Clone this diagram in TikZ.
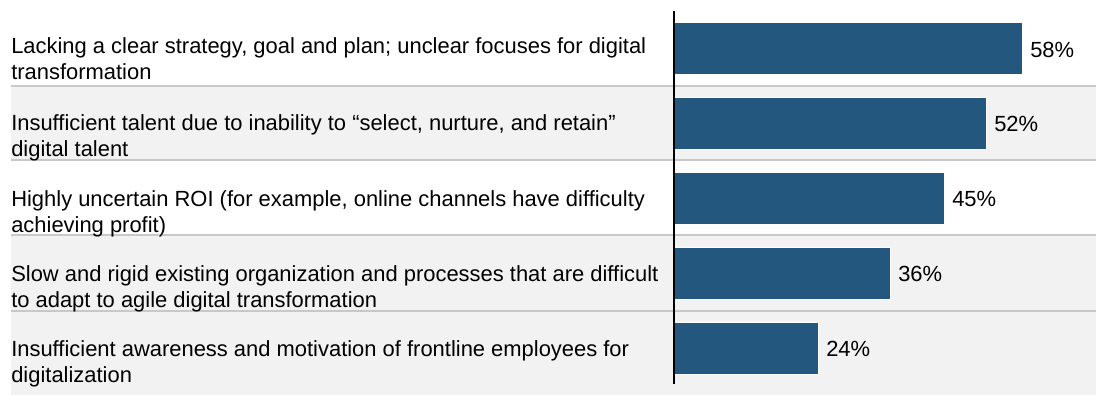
\documentclass[tikz,border=0pt]{standalone}
\usepackage{fontspec}
\setmainfont{Liberation Sans}
\definecolor{barblue}{RGB}{36,87,126}
\definecolor{rowgray}{RGB}{242,242,242}
\definecolor{rulegray}{RGB}{200,200,200}
\begin{document}
\begin{tikzpicture}[x=0.025cm, y=-0.025cm,
  rowtext/.style={anchor=base west, align=left, inner sep=0pt, font=\fontsize{15.6}{17.8}\selectfont},
  pct/.style={anchor=base west, inner sep=0pt, font=\fontsize{15.6}{17.8}\selectfont},
  bar/.style={fill=barblue, draw=white, line width=0.6pt},
  sep/.style={draw=rulegray, line width=1.4pt}]
% Page size (one unit is one pixel of the chart)
\useasboundingbox (0,0) rectangle (1096,395);

% Shaded rows and row rules
\fill[rowgray] (11,86) rectangle (1096,160);
\fill[rowgray] (11,235) rectangle (1096,395);
\draw[sep] (11,86) -- (1096,86);
\draw[sep] (11,160) -- (1096,160);
\draw[sep] (11,235) -- (1096,235);
\draw[sep] (11,311) -- (1096,311);

% Bars, 6 units per percent
\draw[bar] (674,22) rectangle +(348,52);
\draw[bar] (674,97) rectangle +(312,52);
\draw[bar] (674,172) rectangle +(270,52);
\draw[bar] (674,247) rectangle +(216,52);
\draw[bar] (674,322) rectangle +(144,52);

% Axis
\coordinate (axtop) at (674,11);
\coordinate (axbot) at (674,384);
\draw[line width=1.1pt] (axtop) -- (axbot);

% Values
\node[pct] (val1) at (1030,57) {58\%};
\node[pct] (val2) at (994,131) {52\%};
\node[pct] (val3) at (952,206) {45\%};
\node[pct] (val4) at (898,281) {36\%};
\node[pct] (val5) at (826,356) {24\%};

% Row labels (anchored on the baseline of the second line)
\node[rowtext] (lab1) at (11,79) {Lacking a clear strategy, goal and plan; unclear focuses for digital\\transformation};
\node[rowtext] (lab2) at (11,156) {Insufficient talent due to inability to “select, nurture, and retain”\\digital talent};
\node[rowtext] (lab3) at (11,232) {Highly uncertain ROI (for example, online channels have difficulty\\achieving profit)};
\node[rowtext] (lab4) at (11,307) {Slow and rigid existing organization and processes that are difficult\\to adapt to agile digital transformation};
\node[rowtext] (lab5) at (11,382) {Insufficient awareness and motivation of frontline employees for\\digitalization};
\end{tikzpicture}
\end{document}
